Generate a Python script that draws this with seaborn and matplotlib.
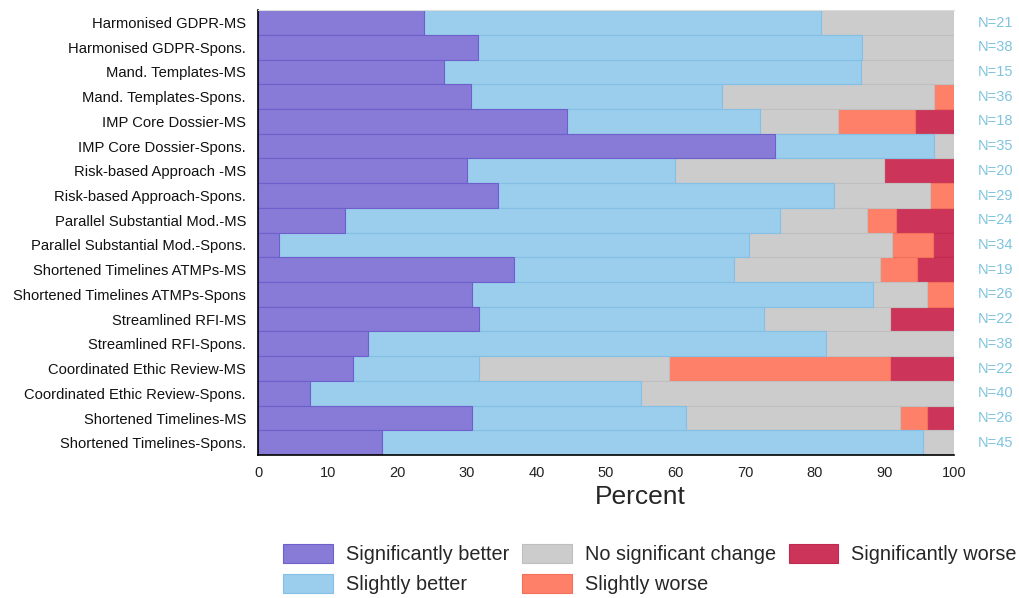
import numpy as np
import pandas as pd
import seaborn as sns
import matplotlib.pyplot as plt

# Filas del gráfico (de arriba a abajo)
labels = ['Harmonised GDPR-MS', 'Harmonised GDPR-Spons.', 'Mand. Templates-MS', 'Mand. Templates-Spons.',
          'IMP Core Dossier-MS', 'IMP Core Dossier-Spons.', 'Risk-based Approach -MS', 'Risk-based Approach-Spons.',
          'Parallel Substantial Mod.-MS', 'Parallel Substantial Mod.-Spons.', 'Shortened Timelines ATMPs-MS',
          'Shortened Timelines ATMPs-Spons', 'Streamlined RFI-MS', 'Streamlined RFI-Spons.',
          'Coordinated Ethic Review-MS', 'Coordinated Ethic Review-Spons.', 'Shortened Timelines-MS',
          'Shortened Timelines-Spons.']
n_total = [21, 38, 15, 36, 18, 35, 20, 29, 24, 34, 19, 26, 22, 38, 22, 40, 26, 45]

# Recuentos por categoría de respuesta
sig_better = [5, 12, 4, 11, 8, 26, 6, 10, 3, 1, 7, 8, 7, 6, 3, 3, 8, 8]
sl_better = [12, 21, 9, 13, 5, 8, 6, 14, 15, 23, 6, 15, 9, 25, 4, 19, 8, 35]
no_change = [4, 5, 2, 11, 2, 1, 6, 4, 3, 7, 4, 2, 4, 7, 6, 18, 8, 2]
sl_worse = [0, 0, 0, 1, 2, 0, 0, 1, 1, 2, 1, 1, 0, 0, 7, 0, 1, 0]
sig_worse = [0, 0, 0, 0, 1, 0, 2, 0, 2, 1, 1, 0, 2, 0, 2, 0, 1, 0]

categories = ['Significantly better', 'Slightly better', 'No significant change', 'Slightly worse', 'Significantly worse']
colors = ['#877BD7', '#9BCDEC', '#CCCCCC', '#FF8069', '#CC3559']
edges = ['#6E5FCC', '#84BFE6', '#BFBFBF', '#F2705A', '#C02A4E']

counts = np.array([sig_better, sl_better, no_change, sl_worse, sig_worse], dtype=float)
pct = counts / np.array(n_total) * 100
cum = np.cumsum(pct, axis=0)

df = pd.DataFrame({'label': labels})
for i, c in enumerate(categories):
    df[c] = cum[i]

sns.set_style('white')
plt.rcParams['font.family'] = ['Liberation Sans', 'DejaVu Sans']

fig, ax = plt.subplots(figsize=(10.2, 5.98), dpi=100)
plt.subplots_adjust(left=0.253, right=0.935, top=0.983, bottom=0.239)

# Barras apiladas: se dibuja el acumulado de mayor a menor
for i in range(len(categories) - 1, -1, -1):
    sns.barplot(data=df, x=categories[i], y='label', orient='h', color=colors[i], width=1.0,
                edgecolor=edges[i], linewidth=0.8, saturation=1, ax=ax, label=categories[i])

for j, n in enumerate(n_total):
    ax.text(103.4, j, f'N={n}', va='center', ha='left', color='#7FC4DE', fontsize=10.5)

ax.set_xlim(0, 100)
ax.set_ylim(len(labels) - 0.5, -0.5)
ax.set_xticks(range(0, 101, 10))
ax.tick_params(axis='x', labelsize=10.5, length=0, pad=8, labelcolor='#222222')
ax.tick_params(axis='y', labelsize=10.6, length=0, pad=8.6, labelcolor='#111111')
ax.set_ylabel('')
ax.set_xlabel('')
ax.text(0.55, -0.095, 'Percent', transform=ax.transAxes, ha='center', va='center', fontsize=19)
for s in ['left', 'bottom']:
    ax.spines[s].set_color('black')
    ax.spines[s].set_linewidth(1.2)
ax.spines['right'].set_visible(False)
ax.spines['top'].set_color('#DDDDDD')
ax.spines['top'].set_linewidth(0.8)

handles, lbls = ax.get_legend_handles_labels()
order = [lbls.index(c) for c in categories]
if ax.legend_:
    ax.legend_.remove()
fig.legend([handles[k] for k in order], [lbls[k] for k in order], ncol=3, loc='center',
           bbox_to_anchor=(650 / 1020, 1 - 569 / 598), frameon=False, fontsize=14.3,
           handlelength=2.5, handleheight=1.1, handletextpad=0.65, columnspacing=0.65, labelspacing=0.5)

plt.savefig('out.png', dpi=100)
